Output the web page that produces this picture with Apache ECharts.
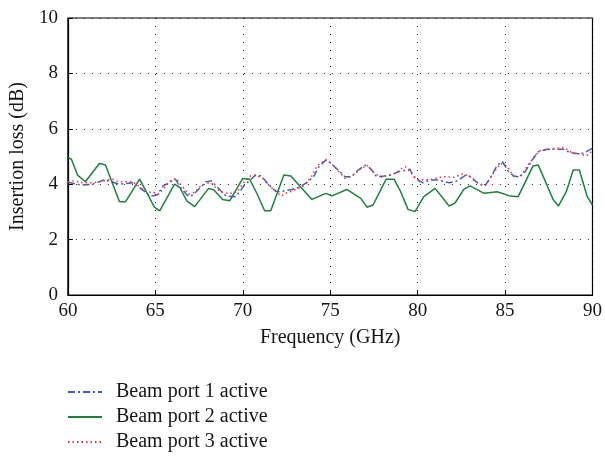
<!DOCTYPE html>
<html>
<head>
<meta charset="utf-8">
<script src="https://cdn.jsdelivr.net/npm/echarts@6/dist/echarts.min.js"></script>
<style>
  html, body { margin: 0; padding: 0; background: #fff; }
  #chart { width: 605px; height: 457px; }
</style>
</head>
<body>
<div id="chart"></div>
<script>
// Frequency (GHz) / insertion loss (dB) samples for each beam port
const freqPort1 = [60, 60.75, 61.4, 62.05, 62.5, 62.9, 63.75, 64.4, 64.7, 65.1, 65.45, 66.15, 66.4, 66.9, 67.15, 67.9, 68.2, 68.7, 69.05, 69.6, 70.1, 70.75, 71.05, 71.5, 71.9, 72.1, 72.8, 73.2, 73.6, 74.05, 74.35, 74.75, 75.0, 75.4, 75.85, 76.2, 76.6, 77.0, 77.3, 77.65, 78.1, 78.5, 78.9, 79.55, 79.85, 80.3, 80.7, 81.15, 81.8, 82.3, 82.75, 83.05, 83.5, 83.85, 84.2, 84.55, 84.85, 85.2, 85.5, 85.8, 86.15, 86.55, 86.9, 87.4, 87.75, 88.35, 88.7, 89.3, 89.55, 90];
const lossPort1 = [4.07, 3.97, 4.0, 4.15, 4.09, 4.0, 4.05, 3.73, 3.57, 3.61, 3.94, 4.18, 3.91, 3.55, 3.61, 4.09, 4.12, 3.79, 3.57, 3.55, 3.97, 4.33, 4.30, 3.97, 3.75, 3.73, 3.81, 3.89, 4.03, 4.27, 4.63, 4.87, 4.78, 4.54, 4.27, 4.27, 4.51, 4.69, 4.57, 4.27, 4.30, 4.33, 4.45, 4.54, 4.21, 4.05, 4.15, 4.15, 4.05, 4.13, 4.33, 4.27, 4.0, 3.94, 4.27, 4.69, 4.81, 4.45, 4.30, 4.27, 4.45, 4.87, 5.17, 5.26, 5.26, 5.26, 5.14, 5.09, 5.14, 5.30];

const freqPort2 = [60, 60.2, 60.55, 61.0, 61.8, 62.15, 62.95, 63.3, 64.1, 64.95, 65.25, 66.1, 66.4, 66.8, 67.25, 68.05, 68.35, 68.85, 69.25, 70.0, 70.4, 70.85, 71.25, 71.6, 72.35, 72.75, 73.95, 74.75, 75.1, 75.95, 76.75, 77.1, 77.45, 78.2, 78.65, 79.0, 79.45, 79.85, 80.35, 81.0, 81.8, 82.15, 82.65, 83.0, 83.8, 84.55, 85.3, 85.75, 86.6, 86.9, 87.75, 88.05, 88.5, 88.9, 89.25, 89.7, 90];
const lossPort2 = [4.97, 4.9, 4.33, 4.09, 4.75, 4.69, 3.37, 3.37, 4.18, 3.17, 3.04, 4.0, 3.88, 3.40, 3.19, 3.85, 3.79, 3.45, 3.40, 4.21, 4.18, 3.61, 3.04, 3.04, 4.33, 4.30, 3.45, 3.67, 3.58, 3.81, 3.49, 3.17, 3.25, 4.18, 4.18, 3.77, 3.09, 3.01, 3.55, 3.85, 3.21, 3.33, 3.82, 3.94, 3.67, 3.73, 3.57, 3.55, 4.66, 4.69, 3.45, 3.21, 3.73, 4.51, 4.51, 3.55, 3.25];

const freqPort3 = [60, 60.35, 60.85, 61.4, 61.85, 62.25, 62.55, 62.9, 63.3, 63.7, 64.5, 64.9, 65.2, 65.85, 66.2, 66.6, 66.9, 67.25, 67.55, 67.9, 68.2, 68.7, 69.05, 69.4, 69.7, 70.0, 70.45, 70.75, 71.15, 71.6, 71.9, 72.2, 72.45, 72.85, 73.5, 73.95, 74.25, 74.75, 75.1, 75.5, 75.85, 76.35, 76.7, 77.1, 77.55, 77.95, 78.2, 78.7, 79.1, 79.3, 79.55, 79.95, 80.2, 80.8, 81.45, 82.1, 82.55, 82.95, 83.25, 83.6, 83.9, 84.35, 84.75, 85.1, 85.5, 85.9, 86.25, 86.65, 87.0, 87.6, 87.95, 88.35, 88.9, 89.3, 89.65, 90];
const lossPort3 = [4.09, 4.12, 4.05, 4.05, 4.09, 4.15, 4.18, 4.09, 4.09, 4.09, 3.73, 3.70, 3.64, 4.12, 4.21, 3.88, 3.64, 3.70, 3.91, 4.03, 4.05, 3.73, 3.67, 3.67, 3.73, 4.03, 4.30, 4.33, 4.21, 3.89, 3.73, 3.57, 3.67, 3.76, 3.94, 4.30, 4.66, 4.90, 4.73, 4.45, 4.21, 4.33, 4.54, 4.69, 4.39, 4.25, 4.30, 4.39, 4.57, 4.63, 4.45, 4.18, 4.15, 4.18, 4.27, 4.25, 4.37, 4.30, 4.12, 4.0, 3.97, 4.42, 4.75, 4.66, 4.27, 4.27, 4.63, 4.99, 5.21, 5.26, 5.30, 5.33, 5.11, 5.09, 5.02, 5.21];

const seriesNames = ['Beam port 1 active', 'Beam port 2 active', 'Beam port 3 active'];
const xTicks = [60, 65, 70, 75, 80, 85, 90];
const yTicks = [0, 2, 4, 6, 8, 10];

const pair = (xs, ys) => xs.map((x, i) => [x, ys[i]]);

const FONT = '"Liberation Serif", "DejaVu Serif", serif';
const TEXT = '#161616';
const chart = echarts.init(document.getElementById('chart'), null, { renderer: 'canvas' });

const gridLine = { show: true, lineStyle: { color: '#222', type: [1, 7], width: 1 } };

chart.setOption({
  animation: false,
  backgroundColor: '#fff',
  textStyle: { fontFamily: FONT, color: TEXT },
  grid: { left: 67, right: 9, top: 18, bottom: 162, show: true, borderColor: '#000', borderWidth: 1.2, containLabel: false },
  legend: {
    show: true,
    orient: 'vertical',
    left: 67,
    top: 382,
    padding: 0,
    itemWidth: 34,
    itemHeight: 12,
    itemGap: 5,
    itemStyle: { opacity: 0 },
    textStyle: { fontFamily: FONT, fontSize: 20, lineHeight: 20, color: TEXT, padding: [0, 0, 0, 9] },
    data: seriesNames
  },
  xAxis: {
    type: 'value',
    min: xTicks[0], max: xTicks[xTicks.length - 1], interval: 5,
    name: 'Frequency (GHz)', nameLocation: 'middle', nameGap: 33,
    nameTextStyle: { fontFamily: FONT, fontSize: 20, color: TEXT },
    axisLine: { show: true, onZero: false, lineStyle: { color: '#000', width: 1.2 } },
    axisTick: { show: true, inside: true, length: 5, lineStyle: { color: '#000' } },
    axisLabel: { fontFamily: FONT, fontSize: 19, color: TEXT, margin: 7 },
    splitLine: gridLine
  },
  yAxis: {
    type: 'value',
    min: yTicks[0], max: yTicks[yTicks.length - 1], interval: 2,
    name: 'Insertion loss (dB)', nameLocation: 'middle', nameGap: 38, nameRotate: 90,
    nameTextStyle: { fontFamily: FONT, fontSize: 20, color: TEXT },
    axisLine: { show: true, lineStyle: { color: '#000', width: 1.2 } },
    axisTick: { show: true, inside: true, length: 5, lineStyle: { color: '#000' } },
    axisLabel: { fontFamily: FONT, fontSize: 19, color: TEXT, margin: 10 },
    splitLine: gridLine
  },
  series: [
    {
      name: seriesNames[0], type: 'line', symbol: 'none', z: 3,
      data: pair(freqPort1, lossPort1),
      lineStyle: { color: '#3f5fb0', width: 1.5, type: [7, 3, 2, 3] },
      itemStyle: { color: '#3f5fb0' }
    },
    {
      name: seriesNames[1], type: 'line', symbol: 'none', z: 2,
      data: pair(freqPort2, lossPort2),
      lineStyle: { color: '#1f7f3c', width: 1.5, type: 'solid' },
      itemStyle: { color: '#1f7f3c' }
    },
    {
      name: seriesNames[2], type: 'line', symbol: 'none', z: 4,
      data: pair(freqPort3, lossPort3),
      lineStyle: { color: '#ee3344', width: 1.5, type: [1.5, 3] },
      itemStyle: { color: '#ee3344' }
    }
  ]
});
</script>
</body>
</html>
